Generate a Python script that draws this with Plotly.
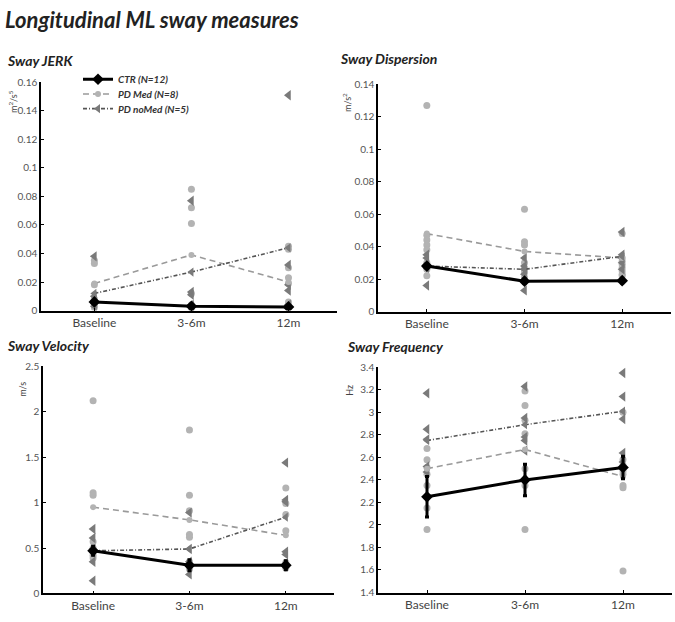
import plotly.graph_objects as go

categories = ["Baseline", "3-6m", "12m"]
legend_names = ["CTR (N=12)", "PD Med (N=8)", "PD noMed (N=5)"]
panel_titles = ["Sway JERK", "Sway Dispersion", "Sway Velocity", "Sway Frequency"]
unit_labels = ["m<sup>2</sup>/s<sup>5</sup>", "m/s<sup>2</sup>", "m/s", "Hz"]
main_title = "Longitudinal ML sway measures"

# ---------- Sway JERK ----------
jerk_ctr_mean = [0.006, 0.003, 0.0025]
jerk_ctr_err = [0.001, 0.001, 0.001]
jerk_med_mean = [0.019, 0.039, 0.020]
jerk_nomed_mean = [0.012, 0.027, 0.044]
jerk_med_base = [0.035, 0.033, 0.018, 0.008, 0.006, 0.004, 0.003, 0.002]
jerk_med_36 = [0.085, 0.072, 0.061, 0.012, 0.004, 0.003, 0.002, 0.002]
jerk_med_12 = [0.045, 0.043, 0.030, 0.023, 0.019, 0.006, 0.004, 0.002]
jerk_nomed_base = [0.038, 0.010, 0.007, 0.005, 0.003]
jerk_nomed_36 = [0.077, 0.013, 0.011, 0.004, 0.003]
jerk_nomed_12 = [0.151, 0.032, 0.018, 0.014, 0.004]
jerk_ticks = [0, 0.02, 0.04, 0.06, 0.08, 0.1, 0.12, 0.14, 0.16]
jerk_ticktext = ["0", "0.02", "0.04", "0.06", "0.08", "0.1", "0.12", "0.14", "0.16"]

# ---------- Sway Dispersion ----------
disp_ctr_mean = [0.028, 0.0187, 0.019]
disp_ctr_err = [0.0015, 0.0015, 0.0015]
disp_med_mean = [0.048, 0.037, 0.033]
disp_nomed_mean = [0.028, 0.026, 0.034]
disp_med_base = [0.127, 0.047, 0.044, 0.041, 0.038, 0.030, 0.026, 0.022]
disp_med_36 = [0.063, 0.043, 0.041, 0.030, 0.027, 0.025, 0.024, 0.021]
disp_med_12 = [0.048, 0.033, 0.031, 0.029, 0.027, 0.025, 0.023, 0.022]
disp_nomed_base = [0.035, 0.033, 0.029, 0.027, 0.016]
disp_nomed_36 = [0.033, 0.028, 0.026, 0.023, 0.013]
disp_nomed_12 = [0.049, 0.035, 0.033, 0.030, 0.026]
disp_ticks = [0, 0.02, 0.04, 0.06, 0.08, 0.1, 0.12, 0.14]
disp_ticktext = ["0", "0.02", "0.04", "0.06", "0.08", "0.1", "0.12", "0.14"]

# ---------- Sway Velocity ----------
vel_ctr_mean = [0.47, 0.31, 0.31]
vel_ctr_err = [0.05, 0.06, 0.05]
vel_med_mean = [0.95, 0.81, 0.64]
vel_nomed_mean = [0.47, 0.49, 0.84]
vel_med_base = [2.12, 1.11, 1.08, 0.57, 0.50, 0.46, 0.42, 0.39]
vel_med_36 = [1.80, 1.08, 0.91, 0.65, 0.62, 0.35, 0.30, 0.27]
vel_med_12 = [1.16, 0.99, 0.87, 0.69, 0.34, 0.31, 0.30, 0.28]
vel_nomed_base = [0.71, 0.61, 0.49, 0.35, 0.14]
vel_nomed_36 = [0.89, 0.49, 0.35, 0.30, 0.21]
vel_nomed_12 = [1.44, 1.03, 1.01, 0.46, 0.43]
vel_ticks = [0, 0.5, 1, 1.5, 2, 2.5]
vel_ticktext = ["0", "0.5", "1", "1.5", "2", "2.5"]

# ---------- Sway Frequency ----------
freq_ctr_mean = [2.25, 2.40, 2.51]
freq_ctr_err = [0.18, 0.14, 0.10]
freq_med_mean = [2.50, 2.67, 2.43]
freq_nomed_mean = [2.75, 2.89, 3.01]
freq_med_base = [2.68, 2.58, 2.51, 2.45, 2.35, 2.25, 2.15, 1.96]
freq_med_36 = [3.19, 3.06, 2.93, 2.81, 2.50, 2.40, 2.35, 1.96]
freq_med_12 = [3.00, 2.58, 2.53, 2.48, 2.45, 2.35, 2.33, 1.59]
freq_nomed_base = [3.17, 2.85, 2.76, 2.52, 2.47]
freq_nomed_36 = [3.23, 2.95, 2.75, 2.66, 2.78]
freq_nomed_12 = [3.35, 3.14, 2.94, 2.64, 2.56]
freq_ticks = [1.4, 1.6, 1.8, 2, 2.2, 2.4, 2.6, 2.8, 3, 3.2, 3.4]
freq_ticktext = ["1.4", "1.6", "1.8", "2", "2.2", "2.4", "2.6", "2.8", "3", "3.2", "3.4"]

panels = [
    dict(ctr=jerk_ctr_mean, err=jerk_ctr_err, med=jerk_med_mean, nomed=jerk_nomed_mean,
         med_pts=[jerk_med_base, jerk_med_36, jerk_med_12],
         nomed_pts=[jerk_nomed_base, jerk_nomed_36, jerk_nomed_12],
         ticks=jerk_ticks, ticktext=jerk_ticktext, yrange=[0, 0.16]),
    dict(ctr=disp_ctr_mean, err=disp_ctr_err, med=disp_med_mean, nomed=disp_nomed_mean,
         med_pts=[disp_med_base, disp_med_36, disp_med_12],
         nomed_pts=[disp_nomed_base, disp_nomed_36, disp_nomed_12],
         ticks=disp_ticks, ticktext=disp_ticktext, yrange=[0, 0.14]),
    dict(ctr=vel_ctr_mean, err=vel_ctr_err, med=vel_med_mean, nomed=vel_nomed_mean,
         med_pts=[vel_med_base, vel_med_36, vel_med_12],
         nomed_pts=[vel_nomed_base, vel_nomed_36, vel_nomed_12],
         ticks=vel_ticks, ticktext=vel_ticktext, yrange=[0, 2.5]),
    dict(ctr=freq_ctr_mean, err=freq_ctr_err, med=freq_med_mean, nomed=freq_nomed_mean,
         med_pts=[freq_med_base, freq_med_36, freq_med_12],
         nomed_pts=[freq_nomed_base, freq_nomed_36, freq_nomed_12],
         ticks=freq_ticks, ticktext=freq_ticktext, yrange=[1.4, 3.4]),
]

W, H = 675, 622
FONT = "Lato, 'Open Sans', sans-serif"

# panel geometry in pixels (left, right, top, bottom)
geo = [
    (41, 337, 77, 310),
    (378, 671, 79, 311),
    (43, 334, 367, 599),
    (378, 672, 368, 598),
]
xranges = [[-0.55, 2.5], [-0.5, 2.5], [-0.52, 2.5], [-0.5, 2.5]]
title_pos = [(5, 55), (338, 53), (5, 346), (345, 347)]
unit_pos = [(13, 97), (347, 98), (23, 391), (350, 392)]
legend_tops = [59, 74, 89]
legend_keys = ["legend", "legend2", "legend3"]

fig = go.Figure()
layout_axes = {}

med_line = "#9a9a9a"
med_marker = "#b3b3b3"
nomed_line = "#555555"
nomed_marker = "#7a7a7a"

for i, p in enumerate(panels):
    n = "" if i == 0 else str(i + 1)
    xa, ya = "x" + n, "y" + n
    show = i == 0
    # individual points
    xs, ys = [], []
    for c, vals in zip(categories, p["med_pts"]):
        xs += [c] * len(vals)
        ys += vals
    fig.add_trace(go.Scatter(x=xs, y=ys, mode="markers", xaxis=xa, yaxis=ya, showlegend=False,
                             marker=dict(symbol="circle", size=7, color=med_marker)))
    xs, ys = [], []
    for c, vals in zip(categories, p["nomed_pts"]):
        xs += [c] * len(vals)
        ys += vals
    fig.add_trace(go.Scatter(x=xs, y=ys, mode="markers", xaxis=xa, yaxis=ya, showlegend=False,
                             marker=dict(symbol="triangle-left", size=9, color=nomed_marker)))
    # means
    fig.add_trace(go.Scatter(x=categories, y=p["med"], mode="lines+markers", xaxis=xa, yaxis=ya,
                             name=legend_names[1], showlegend=show, legend="legend2",
                             line=dict(color=med_line, width=1.6, dash="6px,4px"),
                             marker=dict(symbol="circle", size=6, color=med_marker)))
    fig.add_trace(go.Scatter(x=categories, y=p["nomed"], mode="lines+markers", xaxis=xa, yaxis=ya,
                             name=legend_names[2], showlegend=show, legend="legend3",
                             line=dict(color=nomed_line, width=1.6, dash="4px,2px,1px,2px"),
                             marker=dict(symbol="triangle-left", size=8, color=nomed_marker)))
    fig.add_trace(go.Scatter(x=categories, y=p["ctr"], mode="lines+markers", xaxis=xa, yaxis=ya,
                             name=legend_names[0], showlegend=show, legend="legend",
                             line=dict(color="black", width=3),
                             marker=dict(symbol="diamond", size=9, color="black"),
                             error_y=dict(type="data", array=p["err"], color="black",
                                          thickness=3, width=2)))

    l, r, t, b = geo[i]
    layout_axes["xaxis" + n] = dict(
        domain=[l / W, r / W], anchor=ya, type="category", categoryorder="array",
        categoryarray=categories, range=xranges[i], showline=True, linecolor="black",
        linewidth=1.5, ticks="inside", ticklen=3, tickcolor="black", showgrid=False,
        zeroline=False, tickfont=dict(family=FONT, size=12, color="#444"), fixedrange=True)
    layout_axes["yaxis" + n] = dict(
        domain=[1 - b / H, 1 - t / H], anchor=xa, range=p["yrange"], tickvals=p["ticks"],
        ticktext=p["ticktext"], showline=True, linecolor="black", linewidth=1.5,
        ticks="inside", ticklen=3, tickcolor="black", showgrid=False, zeroline=False,
        tickfont=dict(family=FONT, size=10, color="#555"), fixedrange=True)

annotations = [dict(text=main_title, x=3 / W, y=1 - 13 / H, xref="paper", yref="paper",
                    xanchor="left", yanchor="middle", showarrow=False,
                    font=dict(family=FONT, size=22, color="#222", weight="bold", style="italic"))]
for i in range(4):
    tx, ty = title_pos[i]
    annotations.append(dict(text=panel_titles[i], x=tx / W, y=1 - ty / H, xref="paper",
                            yref="paper", xanchor="left", yanchor="middle", showarrow=False,
                            font=dict(family=FONT, size=14, color="#222", weight="bold",
                                      style="italic")))
    ux, uy = unit_pos[i]
    annotations.append(dict(text=unit_labels[i], x=ux / W, y=1 - uy / H, xref="paper",
                            yref="paper", xanchor="center", yanchor="middle", showarrow=False,
                            textangle=-90, font=dict(family=FONT, size=9, color="#444")))

legend_style = dict(xanchor="left", yanchor="top", bgcolor="rgba(0,0,0,0)", itemwidth=30,
                    font=dict(family=FONT, size=10, color="#333", weight="bold", style="italic"))
legends = {}
for key, top in zip(legend_keys, legend_tops):
    legends[key] = dict(x=78 / W, y=1 - top / H, **legend_style)

fig.update_layout(
    width=W, height=H, margin=dict(l=0, r=0, t=0, b=0),
    plot_bgcolor="white", paper_bgcolor="white",
    annotations=annotations,
    **legends,
    **layout_axes,
)

fig.write_html("out.html", config={"displayModeBar": False},
               post_script="document.body.style.margin='0';")
